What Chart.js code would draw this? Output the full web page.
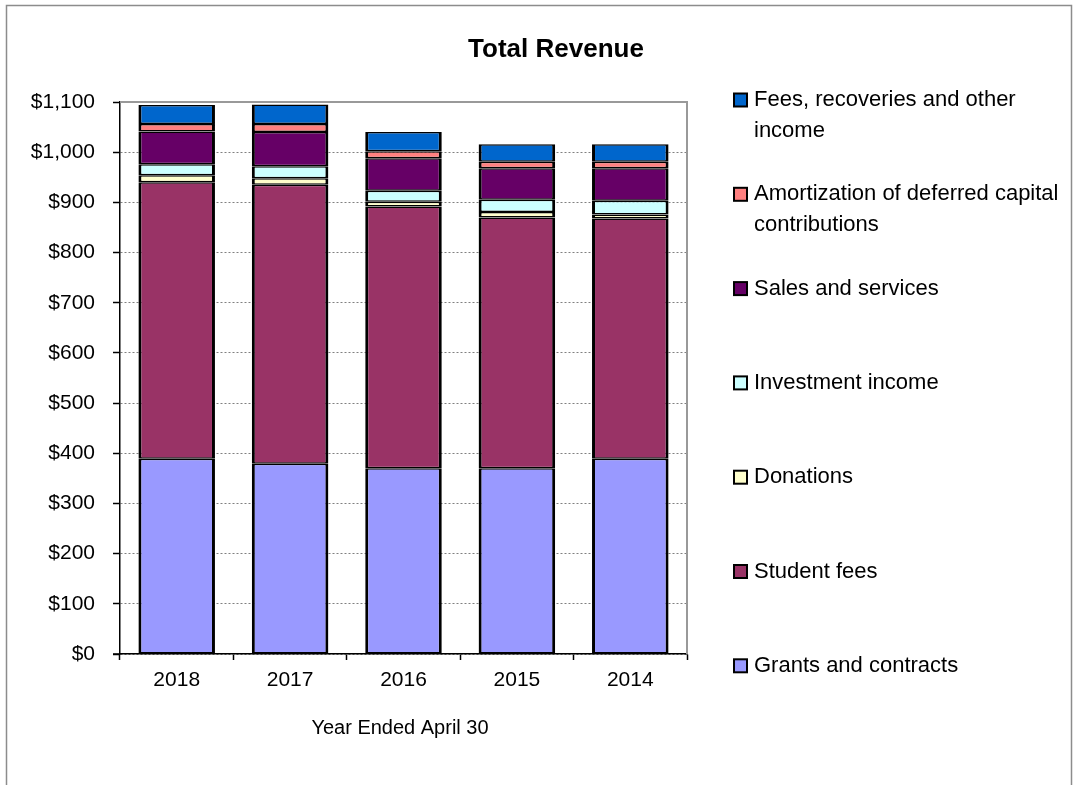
<!DOCTYPE html>
<html>
<head>
<meta charset="utf-8">
<script src="https://cdn.jsdelivr.net/npm/chart.js@4"></script>
<style>
  html, body { margin: 0; padding: 0; background: #ffffff; }
  #c { display: block; }
</style>
</head>
<body>
<canvas id="c" width="1075" height="785"></canvas>
<script>
// ---- Data (values in $ millions) ----
const years = ['2018', '2017', '2016', '2015', '2014'];
const grantsAndContracts = [389, 379, 370, 370, 389];
const studentFees        = [551, 556, 522, 500, 479];
const donations          = [14, 13, 9, 11, 8];
const investmentIncome   = [22, 24, 22, 24, 27];
const salesAndServices   = [65, 68, 65, 63, 65];
const amortizationDCC    = [15, 16, 14, 13, 13];
const feesRecoveries     = [38, 39, 38, 35, 35];
const yTickMin = 0, yTickMax = 1100, yTickStep = 100;

const seriesNames = [
  'Grants and contracts',
  'Student fees',
  'Donations',
  'Investment income',
  'Sales and services',
  'Amortization of deferred capital contributions',
  'Fees, recoveries and other income'
];
const seriesValues = [grantsAndContracts, studentFees, donations, investmentIncome,
                      salesAndServices, amortizationDCC, feesRecoveries];
const seriesColors = ['#9999FF', '#993366', '#FFFFCC', '#CCFFFF', '#660066', '#FF8080', '#0066CC'];

const FONT = '"Liberation Sans", Arial, Helvetica, sans-serif';

function money(v) {
  return '$' + String(v).replace(/\B(?=(\d{3})+(?!\d))/g, ',');
}

const decorations = {
  id: 'decorations',
  beforeDraw(chart) {
    const ctx = chart.ctx;
    ctx.save();
    ctx.fillStyle = '#ffffff';
    ctx.fillRect(0, 0, chart.width, chart.height);
    ctx.restore();
  },
  afterDraw(chart) {
    const ctx = chart.ctx;
    const ca = chart.chartArea;
    ctx.save();
    // outer frame
    ctx.strokeStyle = '#8c8c8c';
    ctx.lineWidth = 1.5;
    ctx.beginPath();
    ctx.moveTo(6.5, 800);
    ctx.lineTo(6.5, 5.5);
    ctx.lineTo(1071.5, 5.5);
    ctx.lineTo(1071.5, 800);
    ctx.stroke();

    // plot frame (top and right, gray)
    ctx.strokeStyle = '#999999';
    ctx.lineWidth = 2;
    ctx.beginPath();
    ctx.moveTo(ca.left, ca.top);
    ctx.lineTo(ca.right, ca.top);
    ctx.lineTo(ca.right, ca.bottom);
    ctx.stroke();
    // x-axis line extends a little to the left of the y axis
    ctx.strokeStyle = '#000000';
    ctx.lineWidth = 1.5;
    ctx.beginPath();
    ctx.moveTo(ca.left - 7, ca.bottom);
    ctx.lineTo(ca.left, ca.bottom);
    ctx.stroke();

    // title
    ctx.fillStyle = '#000000';
    ctx.font = 'bold 26px ' + FONT;
    ctx.textAlign = 'center';
    ctx.textBaseline = 'middle';
    ctx.fillText('Total Revenue', 556, 50);

    // x axis title
    ctx.font = '20px ' + FONT;
    ctx.fillText('Year Ended April 30', 400, 728);

    // legend (reverse order, top = last series)
    ctx.font = '22px ' + FONT;
    ctx.textAlign = 'left';
    ctx.textBaseline = 'middle';
    const maxW = 305;
    const ds = chart.data.datasets;
    for (let k = 0; k < ds.length; k++) {
      const d = ds[ds.length - 1 - k];
      const yc = 100 + k * 94.3;
      ctx.fillStyle = d.backgroundColor;
      ctx.fillRect(734, yc - 6.5, 13, 13);
      ctx.strokeStyle = '#000000';
      ctx.lineWidth = 2;
      ctx.strokeRect(734, yc - 6.5, 13, 13);
      // wrap
      const words = d.label.split(' ');
      const lines = [];
      let cur = '';
      for (const w of words) {
        const test = cur ? cur + ' ' + w : w;
        if (ctx.measureText(test).width > maxW && cur) {
          lines.push(cur);
          cur = w;
        } else {
          cur = test;
        }
      }
      if (cur) lines.push(cur);
      ctx.fillStyle = '#000000';
      lines.forEach((ln, i) => ctx.fillText(ln, 754, yc + i * 31));
    }
    ctx.restore();
  }
};

const datasets = seriesNames.map((name, i) => ({
  label: name,
  data: seriesValues[i],
  backgroundColor: seriesColors[i],
  borderColor: '#000000',
  borderWidth: { left: 3, right: 3, top: 1.5, bottom: 1.5 },
  borderSkipped: false,
  barPercentage: 0.675,
  categoryPercentage: 1.0
}));

new Chart(document.getElementById('c'), {
  type: 'bar',
  data: { labels: years, datasets: datasets },
  options: {
    responsive: false,
    animation: false,
    devicePixelRatio: 1,
    layout: { padding: { left: 7, right: 388, top: 102, bottom: 71 } },
    plugins: {
      legend: { display: false },
      title: { display: false },
      tooltip: { enabled: false }
    },
    scales: {
      x: {
        stacked: true,
        afterFit(scale) { scale.height = 60; },
        grid: {
          offset: true,
          drawOnChartArea: false,
          drawTicks: true,
          tickLength: 6,
          tickColor: '#000000',
          tickWidth: 1.5
        },
        border: { display: true, color: '#000000', width: 1.5 },
        ticks: {
          color: '#000000',
          font: { family: FONT, size: 21 },
          padding: 8,
          maxRotation: 0
        }
      },
      y: {
        stacked: true,
        min: yTickMin,
        max: yTickMax,
        afterFit(scale) { scale.width = 113; },
        grid: {
          color: '#808080',
          lineWidth: 1,
          drawTicks: true,
          tickLength: 7,
          tickColor: '#000000',
          tickWidth: 1.5,
          tickBorderDash: []
        },
        border: { display: true, color: '#000000', width: 1.5, dash: [2, 2] },
        ticks: {
          stepSize: yTickStep,
          color: '#000000',
          font: { family: FONT, size: 21 },
          padding: 18,
          callback: (v) => money(v)
        }
      }
    }
  },
  plugins: [decorations]
});
</script>
</body>
</html>
